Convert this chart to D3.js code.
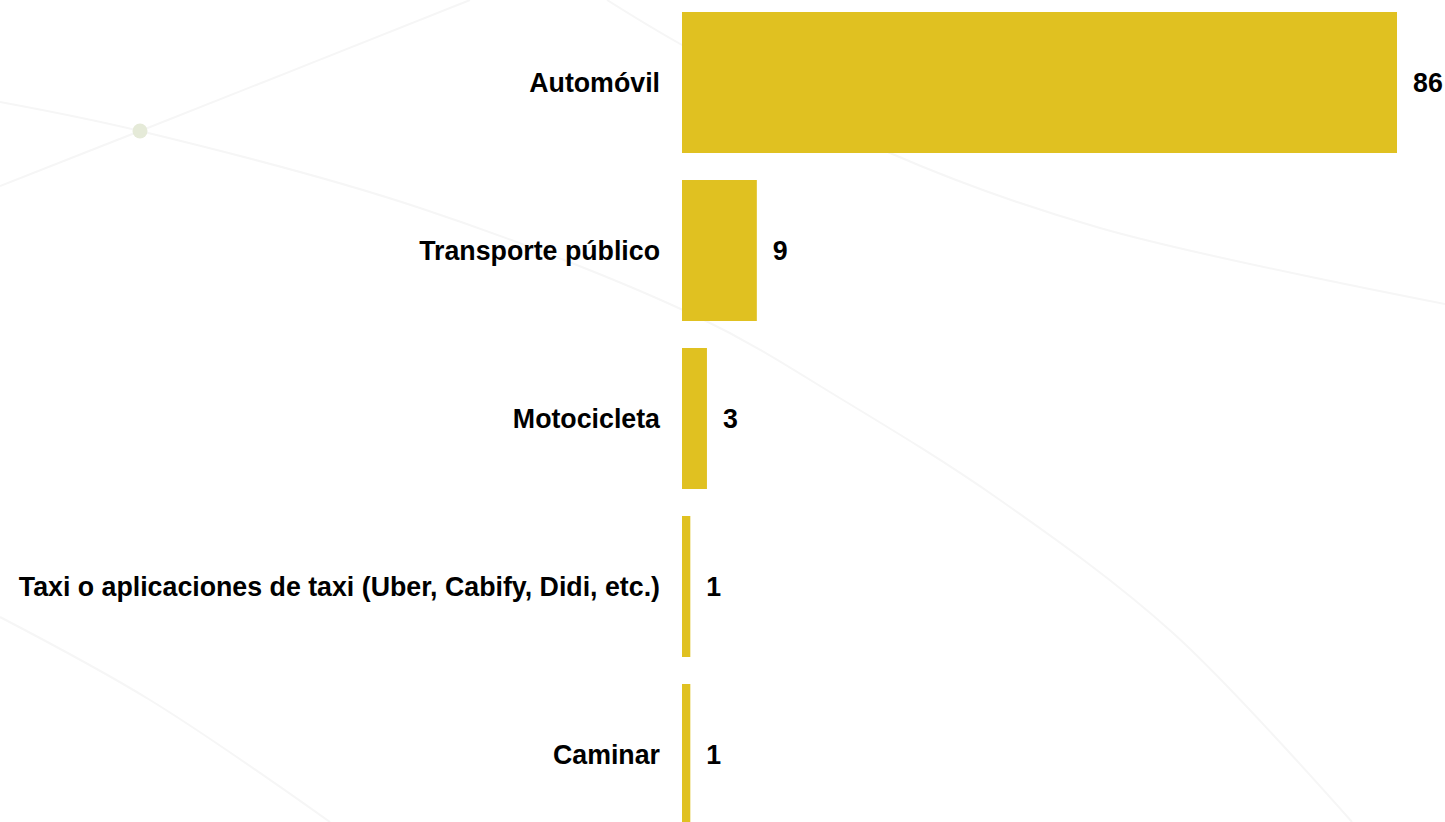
<!DOCTYPE html>
<html>
<head>
<meta charset="utf-8">
<script src="https://cdn.jsdelivr.net/npm/d3@7"></script>
<style>
  html, body { margin: 0; padding: 0; background: #fff; overflow: hidden; }
  svg { display: block; }
</style>
</head>
<body>
<div id="chart"></div>
<script>
const WIDTH = 1445,
    HEIGHT = 822;

// data
const categories = ['Automóvil', 'Transporte público', 'Motocicleta', 'Taxi o aplicaciones de taxi (Uber, Cabify, Didi, etc.)', 'Caminar'];
const values = [86, 9, 3, 1, 1];

// faint background swooshes
const bgLines = [
  [[470, 0], [140, 131], [0, 186]],
  [[0, 102], [140, 131], [420, 208], [700, 318], [843, 400], [1000, 500], [1173, 633], [1352, 822]],
  [[607, 0], [682, 45], [890, 153], [1100, 228], [1445, 304]],
  [[0, 617], [150, 700], [330, 822]]
];

const FONT = 'Arial, "Liberation Sans", Helvetica, sans-serif';

const svg = d3.select('#chart')
  .append('svg')
  .attr('width', WIDTH)
  .attr('height', HEIGHT);

const line = d3.line().curve(d3.curveCatmullRom.alpha(0.5));

svg.append('g')
  .selectAll('path')
  .data(bgLines)
  .enter()
    .append('path')
    .attr('d', d => line(d))
    .attr('fill', 'none')
    .attr('stroke', '#f6f6f6')
    .attr('stroke-width', 2);

svg.append('circle')
  .attr('cx', 140)
  .attr('cy', 131)
  .attr('r', 7.5)
  .attr('fill', '#e5ead8');

const x = d3.scaleLinear()
  .domain([0, d3.max(values)])
  .range([682, 1397]);

const y = d3.scaleBand()
  .domain(categories)
  .range([12, 825])
  .paddingInner(0.1607)
  .paddingOuter(0);

const rows = categories.map((c, i) => ({ name: c, value: values[i] }));

svg.append('g')
  .selectAll('rect')
  .data(rows)
  .enter()
    .append('rect')
    .attr('x', x(0))
    .attr('y', d => y(d.name))
    .attr('width', d => x(d.value) - x(0))
    .attr('height', y.bandwidth())
    .attr('fill', '#e0c121');

// category labels
svg.append('g')
  .selectAll('text')
  .data(rows)
  .enter()
    .append('text')
    .attr('x', x(0) - 22)
    .attr('y', d => y(d.name) + y.bandwidth() / 2)
    .attr('dy', '0.35em')
    .attr('text-anchor', 'end')
    .style('font-family', FONT)
    .style('font-weight', 'bold')
    .style('font-size', '26.75px')
    .attr('fill', '#000')
    .text(d => d.name);

// value labels
svg.append('g')
  .selectAll('text')
  .data(rows)
  .enter()
    .append('text')
    .attr('x', d => x(d.value) + 16)
    .attr('y', d => y(d.name) + y.bandwidth() / 2)
    .attr('dy', '0.35em')
    .style('font-family', FONT)
    .style('font-weight', 'bold')
    .style('font-size', '26.75px')
    .attr('fill', '#000')
    .text(d => d.value);
</script>
</body>
</html>
